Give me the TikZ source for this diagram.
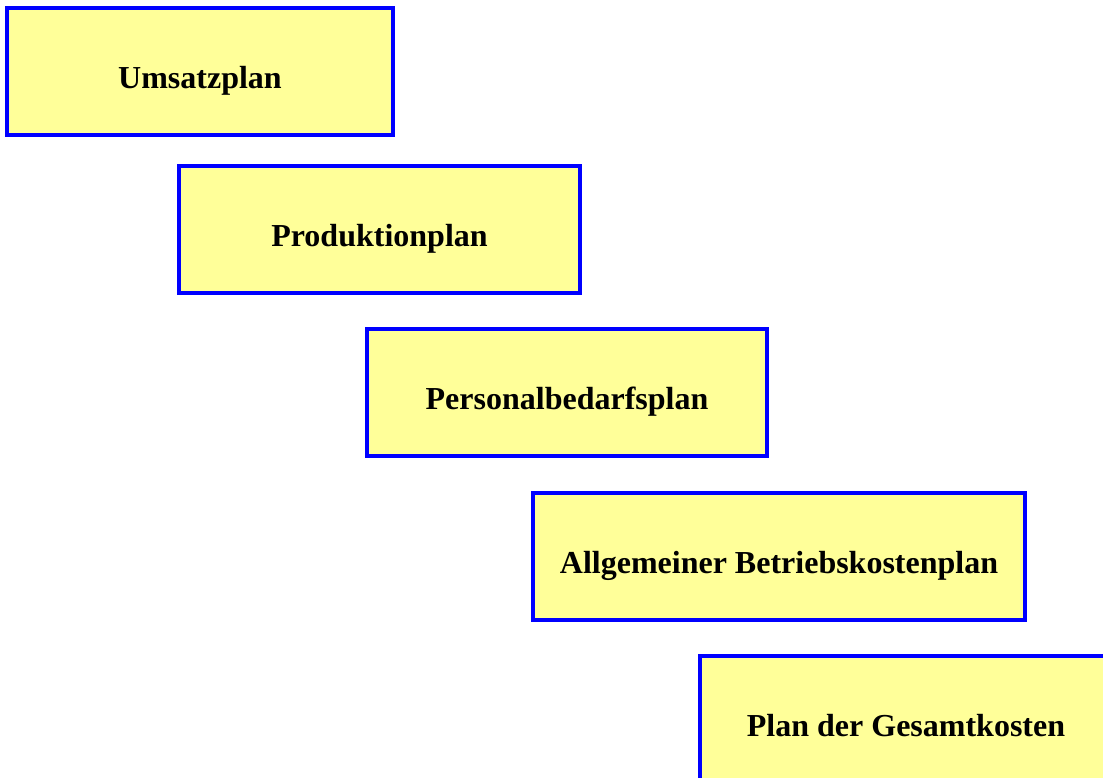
\documentclass[tikz,border=0pt]{standalone}
\usepackage{fontspec}
\setmainfont{Liberation Serif}
\definecolor{boxfill}{RGB}{255,255,153}
\definecolor{boxline}{RGB}{0,0,255}
\tikzset{
  planbox/.style={draw=boxline, fill=boxfill, line width=4pt, rectangle,
    minimum height=127pt, inner sep=0pt, text height=34pt, text depth=0pt,
    font=\fontsize{32}{36}\selectfont\bfseries, text=black}
}
\begin{document}
\begin{tikzpicture}[x=1pt,y=-1pt]
\useasboundingbox (0,0) rectangle (1103,778);
\clip (0,0) rectangle (1103,778);
\node[planbox, minimum width=386pt] (u) at (200,71.5) {Umsatzplan};
\node[planbox, minimum width=401pt] (p) at (379.5,229.5) {Produktionplan};
\node[planbox, minimum width=400pt] (pb) at (567,392.5) {Personalbedarfsplan};
\node[planbox, minimum width=492pt] (ab) at (779,556) {Allgemeiner Betriebskostenplan};
\node[planbox, minimum width=412pt] (gk) at (906,719.5) {Plan der Gesamtkosten};
\end{tikzpicture}
\end{document}
